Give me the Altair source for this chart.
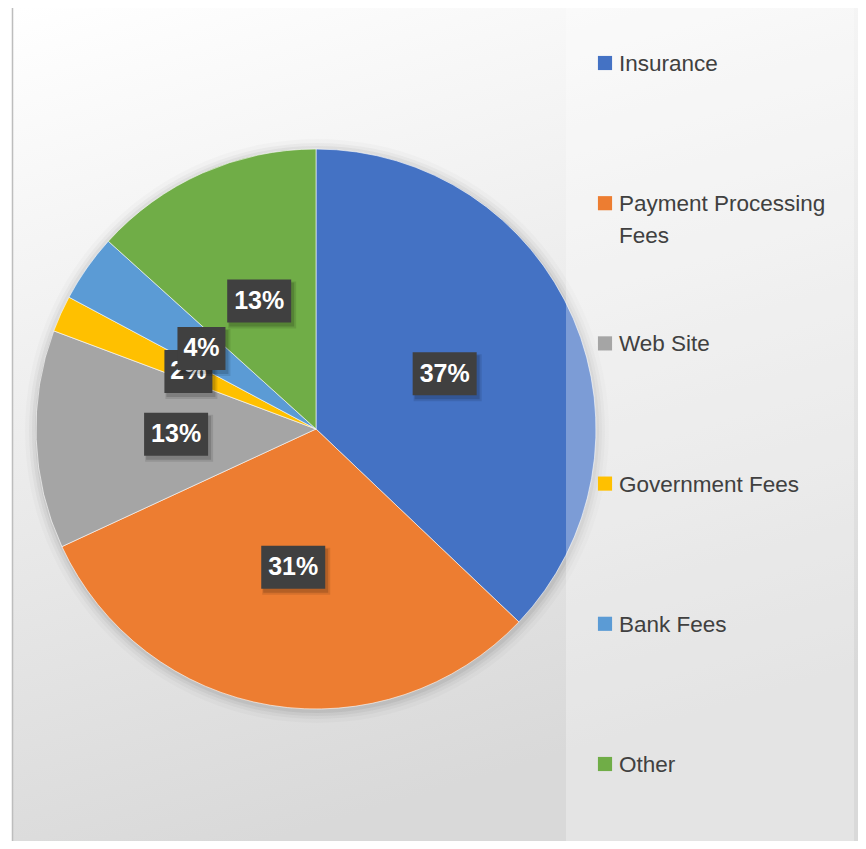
import math
import altair as alt
import pandas as pd

# ---- data ----
categories = ["Insurance", "Payment Processing Fees", "Web Site",
              "Government Fees", "Bank Fees", "Other"]
values = [37.1, 31.0, 12.6, 2.1, 3.9, 13.3]
legend_labels = ["Insurance", "Payment Processing\nFees", "Web Site",
                 "Government Fees", "Bank Fees", "Other"]
colors = ["#4472C4", "#ED7D31", "#A5A5A5", "#FFC000", "#5B9BD5", "#70AD47"]

# ---- layout ----
W, H = 850, 833
CX, CY, R = 308, 421, 280
LABEL_R = 140
FONT = "Liberation Sans"

df = pd.DataFrame({
    "category": categories,
    "value": values,
    "idx": list(range(len(categories))),
    "legend": legend_labels,
})
color_scale = alt.Scale(domain=categories, range=colors)
one = alt.Data(values=[{"k": 1}])

# background gradient
bg = alt.Chart(one).mark_rect(
    color=alt.Gradient(
        gradient="linear",
        stops=[alt.GradientStop(color="#ffffff", offset=0),
               alt.GradientStop(color="#ececec", offset=0.5),
               alt.GradientStop(color="#d9d9d9", offset=1)],
        x1=0, y1=0, x2=0.3, y2=1)
).encode(x=alt.value(5), x2=alt.value(W), y=alt.value(0), y2=alt.value(H))

border = alt.Chart(one).mark_rule(color="#bdbdbd", strokeWidth=1.5).encode(
    x=alt.value(4.5), y=alt.value(0), y2=alt.value(H))

# soft pie shadow
shadows = []
for k, op in [(12, 0.02), (8, 0.03), (5, 0.04), (2, 0.05)]:
    shadows.append(
        alt.Chart(one).mark_arc(radius=R + k, theta=0, theta2=2 * math.pi,
                                color="black", opacity=op)
        .encode(x=alt.value(CX + 1), y=alt.value(CY + 2))
    )

pie = alt.Chart(df).mark_arc(radius=R, stroke="white", strokeWidth=0.6).encode(
    theta=alt.Theta("value:Q", stack=True),
    color=alt.Color("category:N", scale=color_scale, legend=None),
    order=alt.Order("idx:Q"),
    x=alt.value(CX), y=alt.value(CY),
)

panel = alt.Chart(one).mark_rect(fill="#ffffff", opacity=0.3).encode(
    x=alt.value(558), x2=alt.value(846), y=alt.value(0), y2=alt.value(H))

# legend drawn from the category list
leg_base = alt.Chart(df).transform_calculate(ly="55 + 140.2*datum.idx")
leg_sq = leg_base.mark_square(size=200, opacity=1).encode(
    x=alt.value(597),
    y=alt.Y("ly:Q", scale=None, axis=None),
    color=alt.Color("category:N", scale=color_scale, legend=None),
)
leg_tx = leg_base.mark_text(
    align="left", baseline="alphabetic", dy=8, font=FONT, fontSize=22.5,
    color="#404040", lineBreak="\n", lineHeight=32,
).encode(
    x=alt.value(611),
    y=alt.Y("ly:Q", scale=None, axis=None),
    text="legend:N",
)

# data labels (percent) placed at mid-angle of each slice
def label_base():
    return (
        alt.Chart(df)
        .transform_joinaggregate(total="sum(value)")
        .transform_window(cum="sum(value)", sort=[alt.SortField("idx")],
                          frame=[None, 0])
        .transform_calculate(
            ang="2*PI*(datum.cum - datum.value/2)/datum.total",
            px=f"{CX} + {LABEL_R}*sin(datum.ang)",
            py=f"{CY} - {LABEL_R}*cos(datum.ang)",
            label="format(datum.value/datum.total, '.0%')",
            bw="16*length(datum.label) + 16",
            bx1="datum.px - datum.bw/2",
            bx2="datum.px + datum.bw/2",
            by1="datum.py - 21.5",
            by2="datum.py + 21.5",
            s1x1="datum.bx1 + 1", s1x2="datum.bx2 + 5",
            s1y1="datum.by1 + 2", s1y2="datum.by2 + 6",
            s2x1="datum.bx1 + 2", s2x2="datum.bx2 + 3",
            s2y1="datum.by1 + 3", s2y2="datum.by2 + 4",
        )
    )

label_layers = []
for i in range(len(categories)):
    b = label_base().transform_filter(alt.datum.idx == i)
    label_layers.append(b.mark_rect(color="black", opacity=0.10).encode(
        x=alt.X("s1x1:Q", scale=None, axis=None), x2="s1x2:Q",
        y=alt.Y("s1y1:Q", scale=None, axis=None), y2="s1y2:Q"))
    label_layers.append(b.mark_rect(color="black", opacity=0.15).encode(
        x=alt.X("s2x1:Q", scale=None, axis=None), x2="s2x2:Q",
        y=alt.Y("s2y1:Q", scale=None, axis=None), y2="s2y2:Q"))
    label_layers.append(b.mark_rect(color="#404040", opacity=1).encode(
        x=alt.X("bx1:Q", scale=None, axis=None), x2="bx2:Q",
        y=alt.Y("by1:Q", scale=None, axis=None), y2="by2:Q"))
    label_layers.append(b.mark_text(
        font=FONT, fontWeight="bold", fontSize=25, color="white",
        align="center", baseline="middle").encode(
        x=alt.X("px:Q", scale=None, axis=None),
        y=alt.Y("py:Q", scale=None, axis=None),
        text="label:N"))

chart = alt.layer(
    bg, border, *shadows, pie, panel, leg_sq, leg_tx, *label_layers
).resolve_scale(x="independent", y="independent").properties(
    width=W, height=H, padding=0, autosize=alt.AutoSizeParams(type="none"),
    background="white",
).configure_view(stroke=None)

chart.save("out.html", embed_options={"renderer": "svg", "actions": False})
